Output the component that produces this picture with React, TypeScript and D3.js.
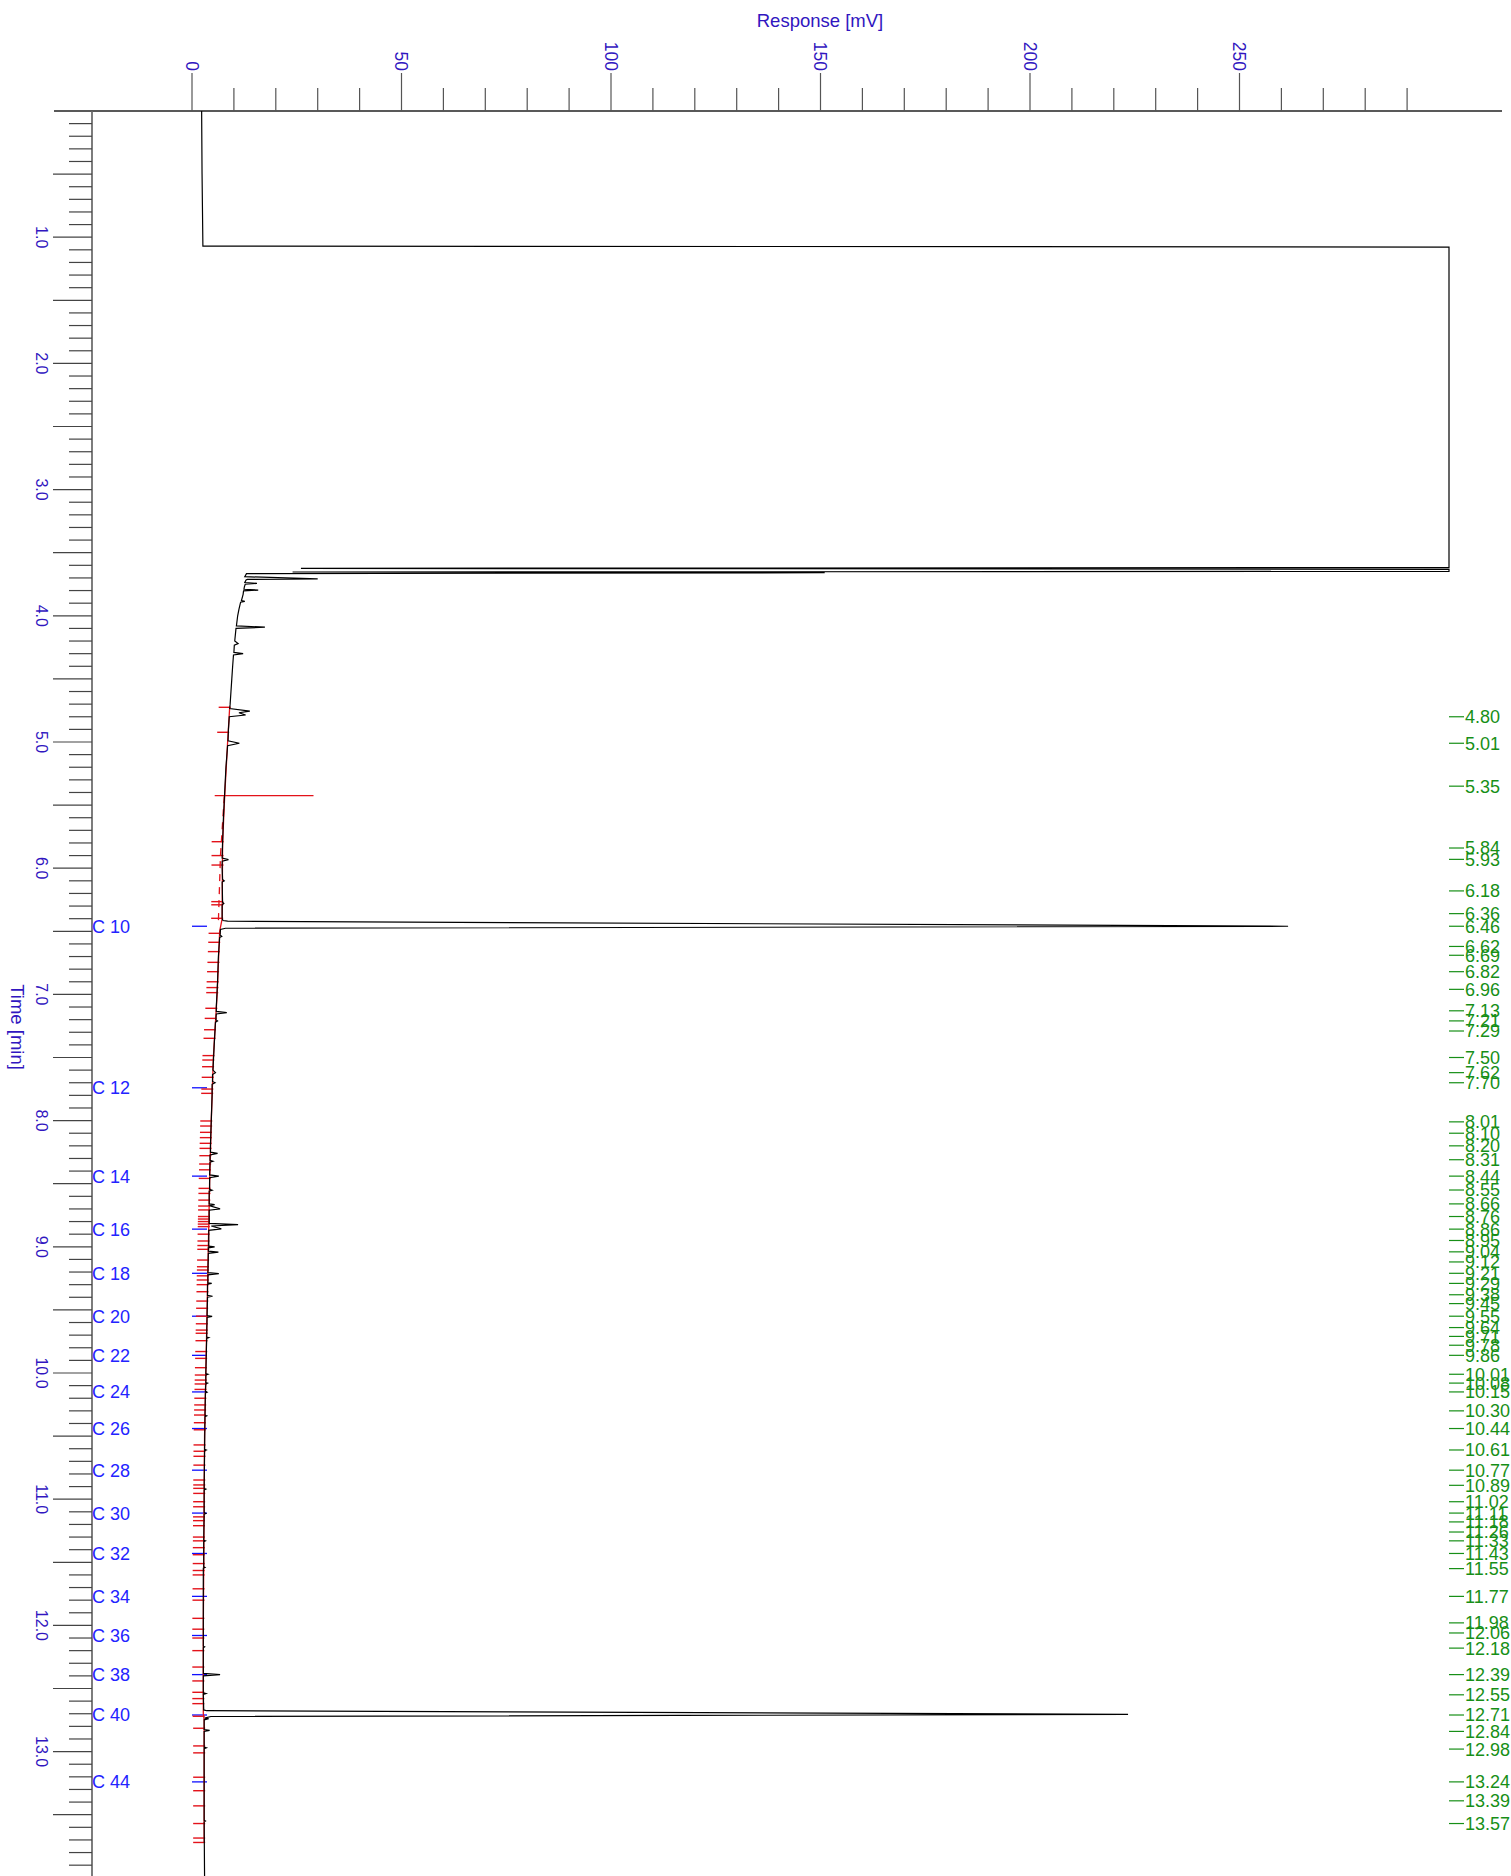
import React, { useEffect } from "react";
import * as d3 from "d3";

// ---------- DATA ----------
// chromatogram trace: [time (min), response (mV)]
const tracePoints: [number, number][] = [
  [0.0, 2.3], [0.5, 2.4], [1.07, 2.6], [1.078, 300], [3.618, 300], [3.624, 26],
  [3.632, 300], [3.648, 300], [3.653, 24], [3.659, 151], [3.666, 13], [3.69, 12.6],
  [3.708, 30], [3.712, 13.2], [3.716, 12.9], [3.736, 12.6], [3.743, 15.5], [3.75, 12.7],
  [3.77, 12.5], [3.79, 12.4], [3.796, 15.8], [3.803, 12.3], [3.83, 12.2], [3.88, 11.8],
  [3.886, 12.6], [3.892, 11.6], [3.95, 11.2], [4.0, 10.9], [4.08, 10.6], [4.09, 17.4],
  [4.1, 10.5], [4.2, 10.2], [4.22, 11.0], [4.232, 10.1], [4.29, 10.0], [4.3, 12.2],
  [4.31, 9.9], [4.4, 9.7], [4.5, 9.5], [4.6, 9.3], [4.7, 9.1], [4.735, 9.0],
  [4.755, 13.8], [4.768, 11.2], [4.786, 12.8], [4.8, 8.9], [4.9, 8.7], [4.99, 8.6],
  [5.01, 11.3], [5.03, 8.5], [5.2, 8.1], [5.4, 7.8], [5.6, 7.5], [5.8, 7.3],
  [5.92, 7.2], [5.932, 8.7], [5.945, 7.2], [6.0, 7.2], [6.09, 7.3], [6.1, 7.7],
  [6.11, 7.2], [6.27, 7.3], [6.28, 7.6], [6.29, 7.2], [6.4, 7.2], [6.415, 7.4],
  [6.42, 8.5], [6.46, 261.6], [6.476, 8.0], [6.485, 6.8], [6.53, 6.7], [6.54, 7.1],
  [6.55, 6.6], [6.7, 6.3], [6.9, 6.1], [7.1, 5.8], [7.135, 5.8], [7.144, 8.3],
  [7.155, 5.8], [7.2, 5.7], [7.21, 6.1], [7.22, 5.6], [7.4, 5.3], [7.6, 5.0],
  [7.62, 5.6], [7.635, 4.9], [7.69, 4.9], [7.7, 5.5], [7.712, 4.8], [7.8, 4.8],
  [8.0, 4.6], [8.2, 4.4], [8.25, 4.4], [8.26, 6.1], [8.272, 4.3], [8.315, 4.3],
  [8.322, 5.0], [8.33, 4.3], [8.43, 4.2], [8.44, 6.4], [8.452, 4.2], [8.545, 4.2],
  [8.552, 4.8], [8.56, 4.1], [8.66, 4.1], [8.666, 5.4], [8.675, 4.3], [8.7, 6.7],
  [8.71, 4.1], [8.815, 4.1], [8.825, 11.0], [8.835, 4.6], [8.858, 7.0], [8.87, 4.0],
  [8.995, 4.0], [9.0, 5.4], [9.008, 3.9], [9.035, 3.9], [9.042, 6.3], [9.052, 3.9],
  [9.205, 3.8], [9.212, 6.4], [9.222, 3.8], [9.285, 3.8], [9.29, 4.7], [9.296, 3.7],
  [9.385, 3.7], [9.392, 4.9], [9.4, 3.7], [9.545, 3.6], [9.552, 4.8], [9.56, 3.6],
  [9.715, 3.5], [9.72, 4.0], [9.726, 3.5], [10.005, 3.3], [10.01, 3.8], [10.016, 3.3],
  [10.075, 3.3], [10.08, 3.7], [10.086, 3.3], [10.145, 3.2], [10.152, 3.6], [10.158, 3.2],
  [10.335, 3.1], [10.34, 3.5], [10.346, 3.1], [10.605, 3.0], [10.61, 3.4], [10.616, 3.0],
  [10.915, 2.9], [10.92, 3.3], [10.926, 2.9], [11.105, 2.9], [11.112, 3.3], [11.118, 2.9],
  [11.325, 2.8], [11.33, 3.2], [11.336, 2.8], [11.535, 2.8], [11.54, 3.1], [11.546, 2.7],
  [12.0, 2.7], [12.165, 2.7], [12.17, 3.0], [12.176, 2.7], [12.38, 2.7], [12.39, 6.7],
  [12.4, 2.7], [12.535, 2.7], [12.54, 3.3], [12.546, 2.7], [12.67, 2.8], [12.676, 3.5],
  [12.705, 223.4], [12.722, 4.5], [12.735, 3.0], [12.74, 4.0], [12.748, 2.9], [12.825, 2.9],
  [12.832, 4.2], [12.84, 2.9], [12.965, 2.9], [12.97, 3.4], [12.976, 2.9], [13.545, 2.9],
  [13.55, 3.2], [13.556, 2.9], [14.0, 3.0],
];

// integration baseline (red)
const baselineSolid: [number, number][] = [
  [4.72, 9.0], [5.0, 8.5], [5.43, 7.8], [5.8, 7.3], [6.4, 7.2], [6.5, 6.6], [7.0, 6.0],
  [7.5, 5.1], [8.0, 4.6], [8.5, 4.2], [9.0, 3.9], [9.5, 3.6], [10.0, 3.3], [10.5, 3.0],
  [11.0, 2.9], [11.5, 2.8], [12.0, 2.7], [12.7, 2.7], [12.75, 2.9], [13.72, 2.9],
];
const baselineDashed: [number, number][] = [[5.43, 7.7], [5.9, 6.8], [6.42, 6.3]];

// peak start / end markers (red), in minutes
const integrationMarks: number[] = [
  4.725, 4.923, 5.79, 5.9, 5.975, 6.265, 6.29, 6.397, 6.516, 6.587, 6.661, 6.746, 6.82,
  6.9, 6.946, 6.986, 7.11, 7.19, 7.28, 7.348, 7.485, 7.52, 7.573, 7.657, 7.75, 7.784,
  8.003, 8.043, 8.093, 8.135, 8.18, 8.22, 8.278, 8.344, 8.39, 8.458, 8.537, 8.577, 8.63,
  8.677, 8.708, 8.76, 8.78, 8.8, 8.82, 8.84, 8.9, 8.954, 8.99, 9.02, 9.105, 9.158, 9.184,
  9.23, 9.263, 9.3, 9.356, 9.43, 9.487, 9.55, 9.61, 9.66, 9.685, 9.744, 9.83, 9.884,
  9.958, 10.016, 10.056, 10.087, 10.13, 10.2, 10.253, 10.293, 10.333, 10.394, 10.45,
  10.57, 10.62, 10.66, 10.73, 10.848, 10.887, 10.914, 10.954, 11.02, 11.06, 11.14, 11.17,
  11.21, 11.3, 11.33, 11.384, 11.44, 11.51, 11.565, 11.6, 11.71, 11.8, 11.944, 12.03,
  12.1, 12.2, 12.33, 12.44, 12.53, 12.58, 12.62, 12.72, 12.815, 12.955, 13.01, 13.203,
  13.31, 13.43, 13.57, 13.685, 13.72,
];
const longMark: [number, number] = [5.425, 29]; // time, end response

// n-alkane reference labels
const alkaneNames: string[] = [
  "C 10", "C 12", "C 14", "C 16", "C 18", "C 20", "C 22", "C 24", "C 26",
  "C 28", "C 30", "C 32", "C 34", "C 36", "C 38", "C 40", "C 44",
];
const alkaneTimes: number[] = [
  6.46, 7.74, 8.44, 8.86, 9.21, 9.55, 9.86, 10.15, 10.44,
  10.77, 11.11, 11.43, 11.77, 12.08, 12.39, 12.71, 13.24,
];

// retention time labels (green)
const retentionTimes: string[] = [
  "4.80", "5.01", "5.35", "5.84", "5.93", "6.18", "6.36", "6.46", "6.62", "6.69", "6.82",
  "6.96", "7.13", "7.21", "7.29", "7.50", "7.62", "7.70", "8.01", "8.10", "8.20", "8.31",
  "8.44", "8.55", "8.66", "8.76", "8.86", "8.95", "9.04", "9.12", "9.21", "9.29", "9.38",
  "9.45", "9.55", "9.64", "9.71", "9.78", "9.86", "10.01", "10.08", "10.15", "10.30",
  "10.44", "10.61", "10.77", "10.89", "11.02", "11.11", "11.18", "11.26", "11.33", "11.43",
  "11.55", "11.77", "11.98", "12.06", "12.18", "12.39", "12.55", "12.71", "12.84", "12.98",
  "13.24", "13.39", "13.57",
];

const xTickLabels: number[] = [0, 50, 100, 150, 200, 250];
const yTickLabels: number[] = [1, 2, 3, 4, 5, 6, 7, 8, 9, 10, 11, 12, 13];

// ---------- LAYOUT ----------
const W = 1511;
const H = 1876;
const FONT = "'Liberation Sans', Arial, Helvetica, sans-serif";
const AXIS_TEXT = "#3116c0";
const C_BLUE = "#2323ff";
const GREEN = "#178f17";
const RED = "#e3121a";

export default function App() {
  useEffect(() => {
    document.body.style.margin = "0";
    document.body.style.overflow = "hidden";
  }, []);

  const x = d3.scaleLinear().domain([0, 300]).range([192, 1449]);
  const y = d3.scaleLinear().domain([0, 14]).range([111, 1877.8]);
  const axisX = 92;

  const line = d3
    .line<[number, number]>()
    .x((d) => x(d[1]))
    .y((d) => y(d[0]));

  const baseInterp = d3
    .scaleLinear()
    .domain(baselineSolid.map((d) => d[0]))
    .range(baselineSolid.map((d) => d[1]));

  const xTicks = d3.range(0, 300, 10);
  const yTicks = d3.range(1, 140).map((i) => i / 10);

  return (
    <svg
      width={W}
      height={H}
      style={{ position: "absolute", left: 0, top: 0, background: "#fff" }}
      fontFamily={FONT}
    >
      <rect x={0} y={0} width={W} height={H} fill="#fff" />
      {/* title */}
      <text x={820} y={27} textAnchor="middle" fontSize={18.5} fill={AXIS_TEXT}>
        Response [mV]
      </text>

      {/* x axis */}
      <line x1={54} x2={1502} y1={111} y2={111} stroke="#222" strokeWidth={1.3} />
      {xTicks.map((v) => {
        const major = v % 50 === 0;
        return (
          <line
            key={"xt" + v}
            x1={x(v)}
            x2={x(v)}
            y1={major ? 73 : 88}
            y2={111}
            stroke="#555"
            strokeWidth={1.2}
          />
        );
      })}
      {xTickLabels.map((v) => (
        <text
          key={"xl" + v}
          transform={`translate(${x(v)},71) rotate(90)`}
          textAnchor="end"
          dy="0.36em"
          fontSize={17.5}
          fill={AXIS_TEXT}
        >
          {v}
        </text>
      ))}

      {/* y axis */}
      <line x1={axisX} x2={axisX} y1={111} y2={H} stroke="#666" strokeWidth={1.7} />
      {yTicks.map((t) => {
        const major = Math.round(t * 10) % 5 === 0;
        return (
          <line
            key={"yt" + t}
            x1={major ? 53 : 69}
            x2={axisX}
            y1={y(t)}
            y2={y(t)}
            stroke="#444"
            strokeWidth={1.2}
          />
        );
      })}
      {yTickLabels.map((t) => (
        <text
          key={"yl" + t}
          transform={`translate(42,${y(t)}) rotate(90)`}
          textAnchor="middle"
          dy="0.36em"
          fontSize={16}
          fill={AXIS_TEXT}
        >
          {t.toFixed(1)}
        </text>
      ))}
      <text
        transform={`translate(18,1027) rotate(90)`}
        textAnchor="middle"
        dy="0.36em"
        fontSize={18.5}
        fill={AXIS_TEXT}
      >
        Time [min]
      </text>

      {/* alkane labels */}
      {alkaneNames.map((n, i) => (
        <g key={"c" + n}>
          <text x={axisX} y={y(alkaneTimes[i])} dy="0.36em" fontSize={18} fill={C_BLUE}>
            {n}
          </text>
          <line
            x1={x(0)}
            x2={x(0) + 15}
            y1={y(alkaneTimes[i])}
            y2={y(alkaneTimes[i])}
            stroke="#1010ff"
            strokeWidth={1.3}
          />
        </g>
      ))}

      {/* integration baseline */}
      <path
        d={line(baselineSolid) || ""}
        fill="none"
        stroke={RED}
        strokeWidth={1.3}
      />
      <path
        d={line(baselineDashed) || ""}
        fill="none"
        stroke={RED}
        strokeWidth={1.3}
        strokeDasharray="7,6"
      />
      {integrationMarks.map((t) => (
        <line
          key={"m" + t}
          x1={x(baseInterp(t)) - 11}
          x2={x(baseInterp(t)) + 1}
          y1={y(t)}
          y2={y(t)}
          stroke={RED}
          strokeWidth={1.4}
        />
      ))}
      <line
        x1={x(baseInterp(longMark[0])) - 10}
        x2={x(longMark[1])}
        y1={y(longMark[0])}
        y2={y(longMark[0])}
        stroke={RED}
        strokeWidth={1.3}
      />

      {/* trace */}
      <path d={line(tracePoints) || ""} fill="none" stroke="#000" strokeWidth={1.2} />

      {/* retention time labels */}
      {retentionTimes.map((s) => {
        const t = parseFloat(s);
        return (
          <g key={"g" + s}>
            <line x1={1449} x2={1464} y1={y(t)} y2={y(t)} stroke={GREEN} strokeWidth={1.2} />
            <text x={1465} y={y(t)} dy="0.36em" fontSize={18} fill={GREEN}>
              {s}
            </text>
          </g>
        );
      })}
    </svg>
  );
}
